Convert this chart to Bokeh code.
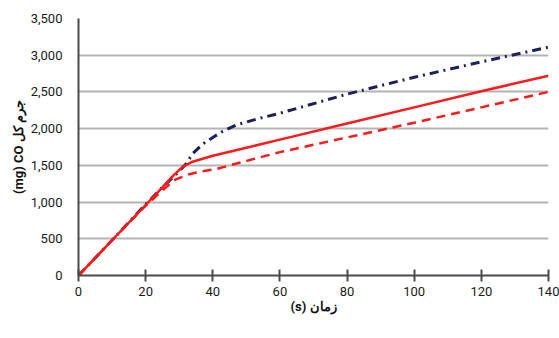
from bokeh.plotting import figure
from bokeh.models import Legend, LegendItem, SingleIntervalTicker, NumeralTickFormatter, Range1d
from bokeh.embed import file_html
from bokeh.resources import INLINE

# Data
t_no_heater = [0, 10, 20, 25, 30, 32, 34, 37, 40, 43, 47, 53, 60, 80, 100, 120, 140]
co_no_heater = [0, 480, 970, 1200, 1420, 1520, 1660, 1790, 1880, 1965, 2050, 2130, 2210, 2470, 2700, 2910, 3110]

t_800k = [0, 10, 20, 25, 28, 31, 34, 37, 40, 50, 60, 80, 100, 120, 140]
co_800k = [0, 480, 960, 1200, 1350, 1480, 1550, 1590, 1630, 1740, 1850, 2070, 2290, 2510, 2720]

t_1000k = [0, 10, 20, 25, 29, 33, 37, 41, 50, 60, 80, 100, 120, 140]
co_1000k = [0, 480, 950, 1160, 1310, 1380, 1420, 1450, 1560, 1680, 1880, 2080, 2290, 2500]

series_labels = ["without heater", "with heater 800K", "with heater 1000K"]
x_title = "(s) زمان"
y_title = "(mg) CO جرم کل"

FONT = "Roboto"

p = figure(frame_width=470, frame_height=257, output_backend="svg", toolbar_location=None,
           x_range=Range1d(0, 140), y_range=Range1d(0, 3500),
           min_border_left=78, min_border_right=11, min_border_top=18, min_border_bottom=0)
p.outline_line_color = None
p.background_fill_color = "white"
p.border_fill_color = "white"

r1 = p.line(t_no_heater, co_no_heater, line_color="#1b1f5c", line_width=3, line_dash="9 5 2 5")
r2 = p.line(t_800k, co_800k, line_color="#ff1a1a", line_width=2.5)
r3 = p.line(t_1000k, co_1000k, line_color="#ff1a1a", line_width=2.5, line_dash="9 6")

p.xaxis.ticker = SingleIntervalTicker(interval=20)
p.yaxis.ticker = SingleIntervalTicker(interval=500)
p.yaxis.formatter = NumeralTickFormatter(format="0,0")
p.xgrid.grid_line_color = None
p.ygrid.grid_line_color = "#b4b4b4"
p.ygrid.grid_line_width = 2

for ax in (p.xaxis, p.yaxis):
    ax.axis_line_color = "#4a4a4a"
    ax.axis_line_width = 2
    ax.minor_tick_line_color = None
    ax.major_label_text_font = FONT
    ax.major_label_text_font_size = "13px"
    ax.major_label_text_color = "#1a1a1a"
    ax.axis_label_text_font = FONT
    ax.axis_label_text_font_size = "13px"
    ax.axis_label_text_font_style = "bold"
    ax.axis_label_text_color = "#111111"

p.yaxis.major_tick_line_color = None
p.yaxis.major_label_standoff = 10
p.yaxis.axis_label = y_title
p.yaxis.axis_label_standoff = 2

p.xaxis.major_tick_line_color = "#4a4a4a"
p.xaxis.major_tick_line_width = 2
p.xaxis.major_tick_in = 6
p.xaxis.major_tick_out = 6
p.xaxis.major_label_standoff = 5
p.xaxis.axis_label = x_title
p.xaxis.axis_label_standoff = 0

legend = Legend(items=[LegendItem(label=series_labels[0], renderers=[r1]),
                       LegendItem(label=series_labels[1], renderers=[r2]),
                       LegendItem(label=series_labels[2], renderers=[r3])],
                orientation="horizontal", location=(9, 0),
                glyph_width=34, glyph_height=14, label_height=14,
                label_standoff=9, spacing=25,
                padding=0, margin=0, border_line_color=None,
                background_fill_alpha=0,
                label_text_font=FONT, label_text_font_size="13px",
                label_text_color="#111111")
p.add_layout(legend, "below")

open("out.html", "w").write(file_html(p, INLINE))
